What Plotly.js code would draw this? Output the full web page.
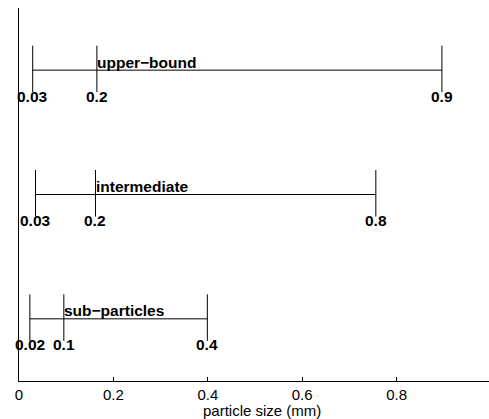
<!DOCTYPE html>
<html>
<head>
<meta charset="utf-8">
<script src="https://cdn.plot.ly/plotly-3.0.1.min.js"></script>
<style>
html,body{margin:0;padding:0;overflow:hidden;background:#fff;}
#chart{width:491px;height:419px;}
</style>
</head>
<body>
<div id="chart"></div>
<script>
// Data (positions; labels as printed)
const categories = ["sub\u2212particles", "intermediate", "upper\u2212bound"];
const lowerVals = [0.023, 0.035, 0.029];
const midVals = [0.095, 0.162, 0.165];
const upperVals = [0.399, 0.756, 0.896];
const lowerLabels = ["0.02", "0.03", "0.03"];
const midLabels = ["0.1", "0.2", "0.2"];
const upperLabels = ["0.4", "0.8", "0.9"];
const xTickVals = [0, 0.2, 0.4, 0.6, 0.8, 1];
const xTickText = ["0", "0.2", "0.4", "0.6", "0.8", "1"];
const xTitle = "particle size (mm)";

const FONT = "Liberation Sans, Arial, Helvetica, sans-serif";
const up = 0.197, down = 0.177;

const traces = [];
const annotations = [];
categories.forEach((name, i) => {
  const y = i + 1;
  const xs = [], ys = [];
  xs.push(lowerVals[i], upperVals[i], null);
  ys.push(y, y, null);
  [lowerVals[i], midVals[i], upperVals[i]].forEach(v => {
    xs.push(v, v, null);
    ys.push(y + up, y - down, null);
  });
  traces.push({
    type: "scatter", mode: "lines", x: xs, y: ys,
    line: {color: "#000", width: 1}, hoverinfo: "skip", showlegend: false
  });
  [[lowerVals[i], lowerLabels[i]], [midVals[i], midLabels[i]], [upperVals[i], upperLabels[i]]].forEach(([v, t]) => {
    annotations.push({
      x: v, y: y, xref: "x", yref: "y", text: "<b>" + t + "</b>", showarrow: false,
      xanchor: "center", yanchor: "middle", yshift: -26,
      font: {family: FONT, size: 15.5, color: "#000"}
    });
  });
  annotations.push({
    x: midVals[i], y: y, xref: "x", yref: "y", text: "<b>" + name + "</b>", showarrow: false,
    xanchor: "left", yanchor: "middle", yshift: 8, xshift: -1.5,
    font: {family: FONT, size: 15.5, color: "#000"}
  });
});

annotations.push({
  x: 0.515, y: 0, xref: "paper", yref: "paper", text: xTitle, showarrow: false,
  xanchor: "center", yanchor: "middle", yshift: -29,
  font: {family: FONT, size: 15, color: "#000"}
});

const layout = {
  width: 491, height: 419,
  margin: {l: 19, r: 0, t: 8, b: 38, pad: 0},
  paper_bgcolor: "#fff", plot_bgcolor: "#fff",
  showlegend: false,
  xaxis: {
    range: [0, 1], tickvals: xTickVals, ticktext: xTickText,
    ticks: "inside", ticklen: 4, tickcolor: "#000", tickwidth: 1,
    showline: true, linecolor: "#000", linewidth: 1,
    showgrid: false, zeroline: false, fixedrange: true,
    tickfont: {family: FONT, size: 15, color: "#000"}
  },
  yaxis: {
    range: [0.5, 3.5], showticklabels: false, ticks: "",
    showline: true, linecolor: "#000", linewidth: 1,
    showgrid: false, zeroline: false, fixedrange: true
  },
  annotations: annotations
};

Plotly.newPlot("chart", traces, layout, {displayModeBar: false, staticPlot: true});
</script>
</body>
</html>
